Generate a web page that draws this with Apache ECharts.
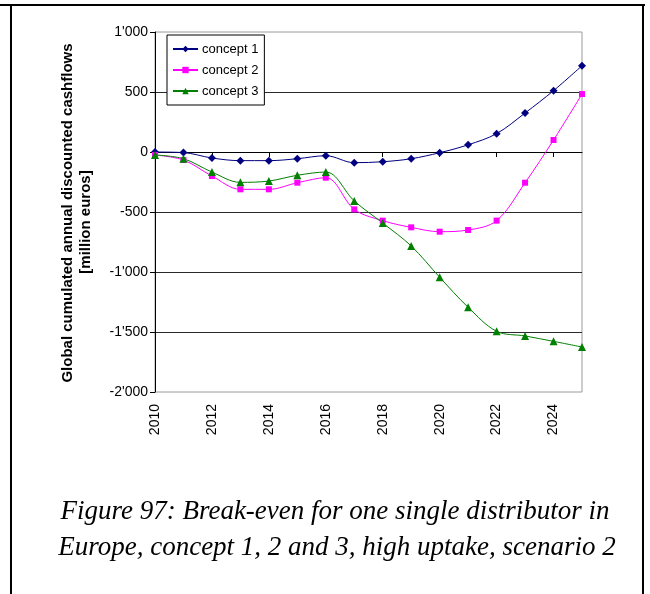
<!DOCTYPE html>
<html>
<head>
<meta charset="utf-8">
<script src="https://cdn.jsdelivr.net/npm/echarts@6/dist/echarts.min.js"></script>
<style>
  html, body { margin: 0; padding: 0; background: #fff; }
  #chart { width: 650px; height: 594px; }
</style>
</head>
<body>
<div id="chart"></div>
<script>
// Years on the category axis
const years = ['2010','2011','2012','2013','2014','2015','2016','2017',
               '2018','2019','2020','2021','2022','2023','2024','2025'];

// Cumulated discounted cashflows, million euros
const concept1 = [0, -5, -50, -72, -72, -56, -31, -89, -81, -56, -6, 60, 153, 325, 511, 719];
const concept2 = [-25, -67, -200, -311, -311, -256, -214, -478, -572, -628, -664, -650, -572, -256, 100, 483];
const concept3 = [-25, -56, -167, -253, -242, -194, -167, -408, -592, -783, -1044, -1294, -1494, -1533, -1578, -1625];

const seriesNames = ['concept 1', 'concept 2', 'concept 3'];
const yTitle1 = 'Global cumulated annual discounted cashflows';
const yTitle2 = '[million euros]';
const caption1 = 'Figure 97: Break-even for one single distributor in';
const caption2 = 'Europe, concept 1, 2 and 3, high uptake, scenario 2';

const FONT = 'Arial, "Liberation Sans", sans-serif';
const SERIF = '"Liberation Serif", "Times New Roman", serif';

function fmtThousands(v) {
  const neg = v < 0;
  let s = String(Math.abs(v));
  s = s.replace(/\B(?=(\d{3})+(?!\d))/g, "'");
  return (neg ? '-' : '') + s;
}

const chart = echarts.init(document.getElementById('chart'), null, { renderer: 'canvas' });

function lineSeries(name, data, color, symbol, size) {
  return {
    name: name,
    type: 'line',
    data: data,
    smooth: 0.35,
    symbol: symbol,
    symbolSize: size,
    showAllSymbol: true,
    lineStyle: { color: color, width: 1 },
    itemStyle: { color: color },
    emphasis: { disabled: true },
    animation: false,
    z: 5
  };
}

chart.setOption({
  animation: false,
  backgroundColor: '#fff',
  grid: {
    left: 155, top: 32, right: 68, bottom: 202,
    show: true, borderColor: '#9a9a9a', borderWidth: 1, backgroundColor: 'transparent'
  },
  legend: {
    orient: 'vertical',
    left: 167, top: 35,
    width: 94,
    padding: [7, 6, 7, 5],
    itemGap: 7,
    itemWidth: 25,
    itemHeight: 8,
    backgroundColor: '#fff',
    borderColor: '#000',
    borderWidth: 1,
    textStyle: { fontFamily: FONT, fontSize: 13, color: '#000', lineHeight: 14, padding: [0, 0, 0, -1] },
    data: seriesNames,
    z: 10
  },
  xAxis: [
    {
      type: 'category',
      data: years,
      boundaryGap: false,
      position: 'bottom',
      axisLine: { show: false, onZero: false },
      axisTick: { show: false },
      splitLine: { show: false },
      axisLabel: {
        interval: 1,
        rotate: 90,
        margin: 12,
        fontFamily: FONT,
        fontSize: 14,
        color: '#000'
      }
    },
    {
      type: 'category',
      data: years,
      boundaryGap: false,
      position: 'bottom',
      axisLine: { show: true, onZero: true, lineStyle: { color: '#000', width: 1 } },
      axisTick: { show: true, interval: 1, length: 5, inside: false, lineStyle: { color: '#000' } },
      axisLabel: { show: false },
      splitLine: { show: false },
      z: 4
    }
  ],
  yAxis: {
    type: 'value',
    min: -2000,
    max: 1000,
    interval: 500,
    axisLine: { show: true, onZero: false, lineStyle: { color: '#000', width: 1 } },
    axisTick: { show: true, length: 5, inside: false, lineStyle: { color: '#000' } },
    axisLabel: {
      margin: 7,
      fontFamily: FONT,
      fontSize: 14,
      color: '#000',
      formatter: fmtThousands
    },
    splitLine: { show: true, showMinLine: false, showMaxLine: false, lineStyle: { color: '#2a2a2a', width: 1 } }
  },
  series: [
    lineSeries(seriesNames[0], concept1, '#000080', 'diamond', 8),
    lineSeries(seriesNames[1], concept2, '#ff00ff', 'rect', 6),
    lineSeries(seriesNames[2], concept3, '#008000', 'triangle', 8)
  ],
  graphic: [
    // page frame
    { type: 'rect', shape: { x: 0, y: 4, width: 645, height: 2 }, style: { fill: '#000' }, silent: true },
    { type: 'rect', shape: { x: 10, y: 4, width: 2, height: 590 }, style: { fill: '#000' }, silent: true },
    { type: 'rect', shape: { x: 642, y: 4, width: 2, height: 590 }, style: { fill: '#000' }, silent: true },
    // y axis title
    {
      type: 'text', x: 68, y: 213, rotation: Math.PI / 2,
      style: { text: yTitle1, font: 'bold 15px ' + FONT, fill: '#000', align: 'center', verticalAlign: 'middle' },
      silent: true
    },
    {
      type: 'text', x: 86, y: 222, rotation: Math.PI / 2,
      style: { text: yTitle2, font: 'bold 15px ' + FONT, fill: '#000', align: 'center', verticalAlign: 'middle' },
      silent: true
    },
    // caption
    {
      type: 'text', x: 335, y: 512,
      style: { text: caption1, font: 'italic 27px ' + SERIF, fill: '#000', align: 'center', verticalAlign: 'middle' },
      silent: true
    },
    {
      type: 'text', x: 337, y: 548,
      style: { text: caption2, font: 'italic 27px ' + SERIF, fill: '#000', align: 'center', verticalAlign: 'middle' },
      silent: true
    }
  ]
});
</script>
</body>
</html>
